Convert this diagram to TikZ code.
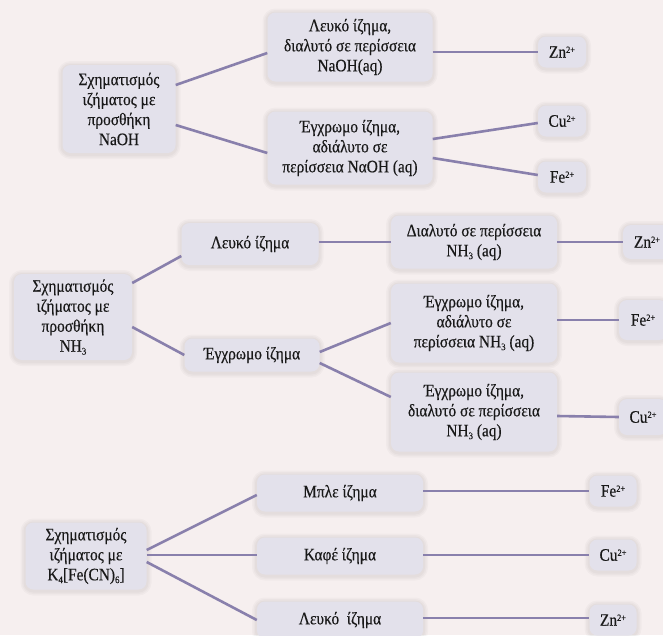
\documentclass[tikz,border=0pt]{standalone}
\usepackage{fontspec}
\setmainfont[FakeStretch=0.88,FakeBold=0.4]{Liberation Serif}
\usepackage{xcolor}
\usepackage{tikz}
\definecolor{bgpink}{RGB}{246,239,239}
\definecolor{boxlav}{RGB}{227,225,235}
\definecolor{linepurple}{RGB}{137,128,172}
\definecolor{inkgrey}{RGB}{25,25,25}
\newcommand{\chg}{\raisebox{0.6ex}{\fontsize{9.5}{9.5}\selectfont 2+}}
\newcommand{\sub}[1]{\raisebox{-0.35ex}{\fontsize{10}{10}\selectfont #1}}

\begin{document}
\begin{tikzpicture}[x=1pt,y=-1pt,
 font=\fontsize{17.5}{20}\selectfont,
 halo/.style={preaction={draw=black,draw opacity=0.025,line width=#1,transform canvas={yshift=-1pt}}},
 b/.style={fill=boxlav,rounded corners=8pt,align=center,inner sep=2pt,text=inkgrey,
   halo=10pt,halo=7pt,halo=4pt},
 ion/.style={b,minimum width=48pt,minimum height=31pt},
 ln/.style={draw=linepurple,line width=2.6pt}]
\useasboundingbox (0,0) rectangle (663,635);
\clip (0,0) rectangle (663,635);
\fill[bgpink] (0,0) rectangle (663,635);
% NaOH
\node[b,minimum width=113pt,minimum height=88pt] (A1) at (119,109) {Σχηματισμός\\ιζήματος με\\προσθήκη\\NaOH};
\node[b,minimum width=165pt,minimum height=69pt] (B1) at (350,47) {Λευκό ίζημα,\\διαλυτό σε περίσσεια\\NaOH(aq)};
\node[b,minimum width=165pt,minimum height=73pt] (B2) at (350,148) {Έγχρωμο ίζημα,\\αδιάλυτο σε\\περίσσεια NαOH (aq)};
\node[ion] (Zn1) at (562,52) {Zn\chg};
\node[ion] (Cu1) at (562,121) {Cu\chg};
\node[ion] (Fe1) at (562,177) {Fe\chg};
\draw[ln] ([yshift=24pt]A1.east) -- ([yshift=-6pt]B1.west);
\draw[ln] ([yshift=-16pt]A1.east) -- ([yshift=-5pt]B2.west);
\draw[ln] ([yshift=-5pt]B1.east) -- (Zn1.west);
\draw[ln] ([yshift=9pt]B2.east) -- ([yshift=-2pt]Cu1.west);
\draw[ln] ([yshift=-10pt]B2.east) -- ([yshift=2pt]Fe1.west);
% NH3
\node[b,minimum width=118pt,minimum height=86pt] (A2) at (73,317) {Σχηματισμός\\ιζήματος με\\προσθήκη\\NH\sub{3}};
\node[b,minimum width=137pt,minimum height=42pt] (B3) at (250,244) {Λευκό ίζημα};
\node[b,minimum width=135pt,minimum height=33pt] (B4) at (252,355) {Έγχρωμο ίζημα};
\node[b,minimum width=166pt,minimum height=53pt] (C1) at (474,242) {Διαλυτό σε περίσσεια\\NH\sub{3} (aq)};
\node[b,minimum width=166pt,minimum height=79pt] (C2) at (474,323) {Έγχρωμο ίζημα,\\αδιάλυτο σε\\περίσσεια NH\sub{3} (aq)};
\node[b,minimum width=166pt,minimum height=79pt] (C3) at (474,412) {Έγχρωμο ίζημα,\\διαλυτό σε περίσσεια\\NH\sub{3} (aq)};
\node[ion,minimum height=34pt] (Zn2) at (647,242) {Zn\chg};
\node[ion,minimum height=40pt] (Fe2) at (643,320) {Fe\chg};
\node[ion,minimum height=36pt] (Cu2) at (643,417) {Cu\chg};
\draw[ln] ([yshift=34pt]A2.east) -- ([yshift=-12pt]B3.west);
\draw[ln] ([yshift=-10pt]A2.east) -- (B4.west);
\draw[ln] ([yshift=2pt]B3.east) -- (C1.west);
\draw[ln] (C1.east) -- (Zn2.west);
\draw[ln] ([yshift=3pt]B4.east) -- (C2.west);
\draw[ln] ([yshift=-8pt]B4.east) -- ([yshift=15pt]C3.west);
\draw[ln] ([yshift=3pt]C2.east) -- (Fe2.west);
\draw[ln] ([yshift=-4pt]C3.east) -- (Cu2.west);
% K4[Fe(CN)6]
\node[b,minimum width=121pt,minimum height=67pt] (A3) at (86,556) {Σχηματισμός\\ιζήματος με\\K\sub{4}[Fe(CN)\sub{6}]};
\node[b,minimum width=166pt,minimum height=37pt] (D1) at (340,493) {Μπλε ίζημα};
\node[b,minimum width=166pt,minimum height=37pt] (D2) at (340,556) {Καφέ ίζημα};
\node[b,minimum width=166pt,minimum height=37pt] (D3) at (340,620) {Λευκό~ ίζημα};
\node[ion,minimum width=47pt] (Fe3) at (613,491) {Fe\chg};
\node[ion,minimum width=47pt] (Cu3) at (613,555) {Cu\chg};
\node[ion,minimum width=47pt] (Zn3) at (613,620) {Zn\chg};
\draw[ln] ([yshift=6pt]A3.east) -- ([yshift=-2pt]D1.west);
\draw[ln] ([yshift=1pt]A3.east) -- ([yshift=1pt]D2.west);
\draw[ln] ([yshift=-6pt]A3.east) -- (D3.west);
\draw[ln] ([yshift=2pt]D1.east) -- (Fe3.west);
\draw[ln] ([yshift=1pt]D2.east) -- (Cu3.west);
\draw[ln] ([yshift=2pt]D3.east) -- ([yshift=2pt]Zn3.west);
\end{tikzpicture}
\end{document}
